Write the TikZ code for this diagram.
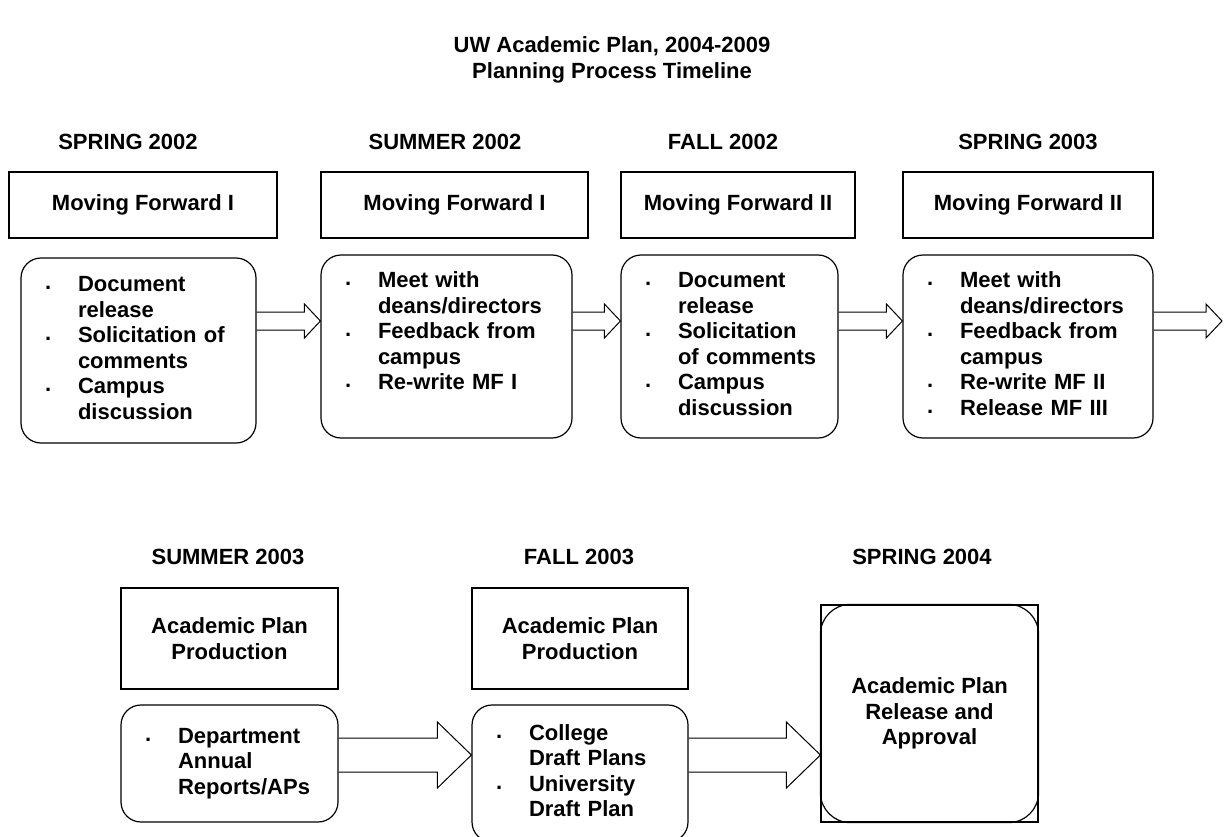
\documentclass[tikz,border=0pt]{standalone}
\usepackage{fontspec}
\setmainfont{Liberation Sans}
\usetikzlibrary{calc}
\tikzset{
	every node/.style={font=\bfseries\fontsize{22}{25.5}\selectfont},
	hbox/.style={draw, line width=1.2pt, minimum height=66pt, inner sep=0pt, align=center},
	rbox/.style={draw, line width=1.2pt, rounded corners=20pt, inner sep=0pt, align=left},
	blk/.style={draw, line width=1pt, line join=miter},
}
\def\bul{\raisebox{2pt}{.}}
\def\blist#1{\hspace*{24pt}\begin{tabular}{@{}p{33pt}@{}l@{}}#1\end{tabular}}
\def\blockarrow[#1](#2)(#3)(#4:#5:#6:#7){\draw[#1] ($(#2.east |- #4)+(0,-#5)$) -- ($(#3 |- #4)+(-#7,-#5)$) -- ($(#3 |- #4)+(-#7,-#6)$) -- (#3 |- #4) -- ($(#3 |- #4)+(-#7,#6)$) -- ($(#3 |- #4)+(-#7,#5)$) -- ($(#2.east |- #4)+(0,#5)$);}

\begin{document}
\begin{tikzpicture}[x=1pt, y=-1pt]
			%%%%% START %%%%%
			\useasboundingbox (0,0) rectangle (1225,837);
			
			\node[align=center] (title) at (612,60) {UW Academic Plan, 2004-2009\\Planning Process Timeline};
			
			\node (s1) at (128,142) {SPRING 2002};
			\node (s2) at (445,142) {SUMMER 2002};
			\node (s3) at (723,142) {FALL 2002};
			\node (s4) at (1028,142) {SPRING 2003};
			
			\node[hbox, minimum width=268pt] (h1) at (143,205) {Moving Forward I};
			\node[hbox, minimum width=267pt] (h2) at (454.5,205) {Moving Forward I};
			\node[hbox, minimum width=234pt] (h3) at (738,205) {Moving Forward II};
			\node[hbox, minimum width=250pt] (h4) at (1028,205) {Moving Forward II};
			
			\node[rbox, text width=235pt, minimum height=185pt] (r1) at (138.5,350.5) {\blist{\bul & Document\\ & release\\ \bul & Solicitation of\\ & comments\\ \bul & Campus\\ & discussion}};
			\node[rbox, text width=251pt, minimum height=183pt] (r2) at (446.5,346.5) {\blist{\bul & Meet with\\ & deans/directors\\ \bul & Feedback from\\ & campus\\ \bul & Re-write MF I\\ & }};
			\node[rbox, text width=217pt, minimum height=183pt] (r3) at (729.5,346.5) {\blist{\bul & Document\\ & release\\ \bul & Solicitation\\ & of comments\\ \bul & Campus\\ & discussion}};
			\node[rbox, text width=250pt, minimum height=183pt] (r4) at (1028,346.5) {\blist{\bul & Meet with\\ & deans/directors\\ \bul & Feedback from\\ & campus\\ \bul & Re-write MF II\\ \bul & Release MF III}};
			
			\coordinate (mid1) at (0,321);
			\coordinate (fwd) at (1222,321);
			\blockarrow[blk](r1)(r2.west)(mid1:9:17:16)
			\blockarrow[blk](r2)(r3.west)(mid1:9:17:16)
			\blockarrow[blk](r3)(r4.west)(mid1:9:17:16)
			\blockarrow[blk](r4)(fwd)(mid1:9:17:16)
			
			\node (s5) at (228,557) {SUMMER 2003};
			\node (s6) at (579,557) {FALL 2003};
			\node (s7) at (922,557) {SPRING 2004};
			
			\node[hbox, minimum width=217pt, minimum height=101pt] (h5) at (229.5,638.5) {Academic Plan\\Production};
			\node[hbox, minimum width=216pt, minimum height=101pt] (h6) at (580,638.5) {Academic Plan\\Production};
			
			\node[rbox, text width=217pt, minimum height=117pt] (r5) at (229.5,763.5) {\blist{\bul & Department\\ & Annual\\ & Reports/APs}};
			\node[rbox, text width=216pt, minimum height=137pt] (r6) at (580,773.5) {\blist{\bul & College\\ & Draft Plans\\ \bul & University\\ & Draft Plan}};
			
			\node[draw, line width=1.2pt, minimum width=217pt, minimum height=217pt, align=center] (fin) at (929.5,713.5) {Academic Plan\\Release and\\Approval};
			\draw[line width=1.2pt, rounded corners=30pt] (fin.south west) rectangle (fin.north east);
			
			\coordinate (mid2) at (0,755);
			\blockarrow[blk](r5)(r6.west)(mid2:17:33:34)
			\blockarrow[blk](r6)(fin.west)(mid2:17:33:34)
			
			%%%%% END %%%%%
\end{tikzpicture}
\end{document}
